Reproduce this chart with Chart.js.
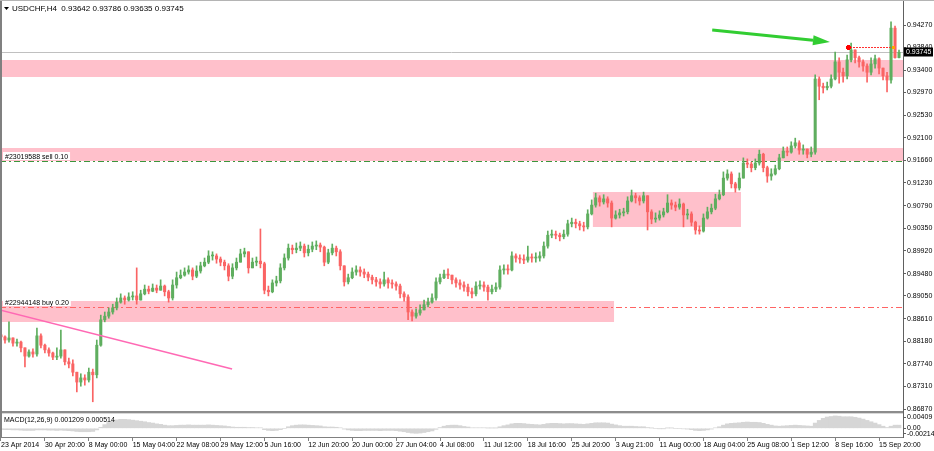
<!DOCTYPE html>
<html>
<head>
<meta charset="utf-8">
<style>
  html, body { margin: 0; padding: 0; background: #fff; overflow: hidden; }
  #wrap { width: 934px; height: 451px; }
</style>
</head>
<body>
<div id="wrap"><canvas id="myChart" width="934" height="451"></canvas></div>
<script src="https://cdn.jsdelivr.net/npm/chart.js@4.4.1/dist/chart.umd.min.js"></script>
<script>
// USDCHF H4, one candle per entry (oldest first)
const symbolTitle = 'USDCHF,H4  0.93642 0.93786 0.93635 0.93745';
const macdTitle = 'MACD(12,26,9) 0.001209 0.000514';

const firstOpen = 0.8830;
const closes = [
  .8826,.8820,.8824,.8814,.8816,.8805,.8789,.8797,.8793,.8828,
  .8810,.8801,.8795,.8787,.8789,.8801,.8778,.8774,.8758,.8739,
  .8747,.8743,.8758,.8753,.8810,.8859,.8866,.8874,.8882,.8893,
  .8901,.8897,.8903,.8905,.8897,.8909,.8918,.8914,.8920,.8916,
  .8924,.8913,.8901,.8926,.8940,.8945,.8951,.8955,.8943,.8953,
  .8963,.8970,.8982,.8982,.8976,.8970,.8963,.8943,.8959,.8970,
  .8986,.8990,.8959,.8970,.8972,.8967,.8916,.8913,.8930,.8934,
  .8959,.8978,.8997,.8994,.8997,.9001,.8988,.8995,.9001,.9003,
  .8999,.8970,.8988,.8997,.8990,.8963,.8932,.8940,.8951,.8955,
  .8951,.8947,.8941,.8936,.8932,.8928,.8936,.8930,.8928,.8924,
  .8909,.8903,.8874,.8866,.8872,.8878,.8888,.8893,.8901,.8932,
  .8940,.8947,.8945,.8936,.8930,.8926,.8922,.8913,.8909,.8924,
  .8926,.8922,.8913,.8918,.8922,.8955,.8957,.8955,.8982,.8978,
  .8976,.8974,.8980,.8978,.8978,.8982,.9001,.9022,.9024,.9022,
  .9019,.9024,.9044,.9047,.9044,.9040,.9038,.9063,.9080,.9094,
  .9086,.9092,.9084,.9055,.9061,.9065,.9067,.9088,.9098,.9094,
  .9088,.9098,.9067,.9053,.9055,.9061,.9067,.9084,.9080,.9076,
  .9082,.9061,.9063,.9047,.9032,.9030,.9055,.9067,.9074,.9092,
  .9100,.9132,.9140,.9121,.9113,.9132,.9161,.9159,.9152,.9161,
  .9178,.9152,.9136,.9140,.9150,.9171,.9184,.9182,.9194,.9200,
  .9186,.9188,.9178,.9182,.9323,.9309,.9306,.9309,.9323,.9356,
  .9336,.9329,.9360,.9379,.9364,.9356,.9348,.9336,.9352,.9362,
  .9344,.9329,.9321,.9421,.93642,.93745
];
const highs = [
  .8834,.8828,.8855,.8824,.8822,.8818,.8805,.8801,.8803,.8843,
  .8832,.8812,.8805,.8797,.8805,.8839,.8801,.8785,.8782,.8758,
  .8755,.8753,.8766,.8764,.8820,.8868,.8874,.8882,.8889,.8901,
  .8909,.8905,.8911,.8913,.8959,.8916,.8926,.8924,.8928,.8926,
  .8936,.8926,.8916,.8936,.8951,.8955,.8959,.8963,.8959,.8963,
  .8970,.8978,.8992,.8990,.8986,.8980,.8974,.8967,.8967,.8978,
  .8995,.8997,.8990,.8978,.8980,.9034,.8970,.8924,.8936,.8943,
  .8967,.8986,.9005,.9003,.9007,.9009,.9005,.9003,.9009,.9011,
  .9007,.9001,.8995,.9005,.9001,.8994,.8963,.8947,.8959,.8963,
  .8961,.8957,.8951,.8945,.8941,.8938,.8951,.8940,.8936,.8932,
  .8928,.8913,.8907,.8878,.8880,.8888,.8897,.8901,.8909,.8940,
  .8947,.8955,.8957,.8945,.8940,.8936,.8932,.8928,.8920,.8932,
  .8934,.8932,.8926,.8926,.8930,.8963,.8965,.8965,.8990,.8986,
  .8984,.8984,.9001,.8986,.8988,.8990,.9009,.9030,.9032,.9030,
  .9026,.9032,.9051,.9055,.9053,.9049,.9047,.9071,.9090,.9103,
  .9098,.9100,.9096,.9088,.9069,.9072,.9074,.9096,.9109,.9103,
  .9098,.9105,.9098,.9071,.9065,.9069,.9074,.9100,.9090,.9086,
  .9092,.9084,.9072,.9067,.9049,.9040,.9063,.9076,.9082,.9101,
  .9109,.9144,.9148,.9144,.9124,.9142,.9171,.9169,.9163,.9169,
  .9186,.9180,.9155,.9150,.9157,.9178,.9192,.9192,.9202,.9209,
  .9204,.9196,.9188,.9192,.9331,.9327,.9315,.9317,.9331,.9375,
  .9364,.9344,.9369,.9392,.9379,.9367,.9360,.9352,.9364,.9369,
  .9364,.9344,.9336,.9433,.9425,.93786
];
const lows = [
  .8820,.8814,.8816,.8808,.8808,.8797,.8768,.8787,.8787,.8789,
  .8805,.8795,.8789,.8782,.8782,.8785,.8772,.8766,.8751,.8720,
  .8731,.8733,.8739,.8701,.8747,.8808,.8855,.8862,.8870,.8878,
  .8891,.8889,.8895,.8897,.8889,.8897,.8907,.8909,.8913,.8911,
  .8916,.8905,.8893,.8897,.8920,.8938,.8943,.8947,.8936,.8940,
  .8949,.8961,.8967,.8974,.8968,.8963,.8955,.8934,.8938,.8955,
  .8970,.8980,.8949,.8959,.8963,.8959,.8909,.8905,.8911,.8924,
  .8930,.8955,.8974,.8986,.8988,.8992,.8980,.8982,.8990,.8994,
  .8990,.8963,.8967,.8984,.8982,.8955,.8924,.8928,.8938,.8945,
  .8943,.8940,.8934,.8928,.8924,.8920,.8924,.8920,.8920,.8916,
  .8901,.8895,.8859,.8857,.8862,.8868,.8878,.8884,.8891,.8897,
  .8928,.8938,.8938,.8928,.8922,.8918,.8914,.8905,.8901,.8905,
  .8918,.8914,.8897,.8909,.8913,.8918,.8947,.8947,.8953,.8970,
  .8968,.8967,.8970,.8970,.8970,.8972,.8978,.8997,.9017,.9015,
  .9011,.9015,.9020,.9038,.9036,.9032,.9030,.9034,.9061,.9076,
  .9078,.9082,.9076,.9038,.9053,.9055,.9059,.9063,.9086,.9084,
  .9080,.9084,.9032,.9044,.9047,.9051,.9057,.9065,.9072,.9069,
  .9072,.9038,.9053,.9040,.9024,.9024,.9028,.9053,.9063,.9071,
  .9090,.9098,.9128,.9113,.9105,.9109,.9132,.9152,.9144,.9148,
  .9157,.9144,.9124,.9128,.9138,.9148,.9171,.9175,.9180,.9190,
  .9178,.9178,.9171,.9173,.9178,.9283,.9296,.9302,.9306,.9321,
  .9315,.9317,.9323,.9356,.9354,.9346,.9338,.9317,.9331,.9344,
  .9333,.9321,.9298,.9315,.9363,.93635
];
const macd = [
  -.0004,-.0005,-.0005,-.0006,-.0006,-.0007,-.0008,-.0008,-.0008,-.0006,
  -.0006,-.0006,-.0007,-.0007,-.0008,-.0007,-.0008,-.0009,-.0010,-.0012,
  -.0013,-.0013,-.0013,-.0012,-.0006,.0004,.0014,.0022,.0028,.0032,
  .0034,.0034,.0033,.0031,.0029,.0027,.0025,.0022,.0020,.0017,
  .0015,.0012,.0010,.0010,.0011,.0012,.0012,.0013,.0012,.0012,
  .0012,.0012,.0013,.0012,.0011,.0010,.0009,.0007,.0005,.0004,
  .0004,.0004,.0003,.0003,.0002,.0002,-.0005,-.0008,-.0009,-.0008,
  -.0005,.0000,.0006,.0010,.0012,.0013,.0013,.0012,.0011,.0010,
  .0009,.0006,.0005,.0005,.0004,.0002,-.0003,-.0006,-.0008,-.0009,
  -.0009,-.0008,-.0008,-.0008,-.0008,-.0009,-.0008,-.0008,-.0008,-.0009,
  -.0011,-.0013,-.0016,-.0018,-.0019,-.0018,-.0016,-.0013,-.0010,-.0004,
  .0003,.0008,.0011,.0012,.0012,.0010,.0007,.0005,.0002,.0002,
  .0002,.0002,.0001,.0001,.0001,.0006,.0010,.0013,.0017,.0019,
  .0019,.0018,.0016,.0015,.0014,.0013,.0015,.0018,.0019,.0019,
  .0018,.0017,.0018,.0018,.0017,.0016,.0015,.0017,.0019,.0021,
  .0021,.0021,.0020,.0016,.0013,.0010,.0008,.0008,.0008,.0007,
  .0006,.0006,.0003,.0001,.0000,-.0001,-.0001,.0001,.0001,.0000,
  .0000,-.0002,-.0003,-.0005,-.0008,-.0009,-.0008,-.0006,-.0003,.0002,
  .0006,.0012,.0017,.0019,.0020,.0021,.0023,.0024,.0023,.0023,
  .0022,.0019,.0015,.0012,.0009,.0008,.0009,.0010,.0011,.0012,
  .0011,.0010,.0009,.0008,.0020,.0030,.0038,.0043,.0045,.0047,
  .0046,.0044,.0044,.0044,.0042,.0039,.0035,.0030,.0025,.0020,
  .0014,.0008,.0003,.0008,.0012,.0012
];

const priceTicks = [0.86870,0.87310,0.87740,0.88180,0.88610,0.89050,0.89480,0.89920,0.90350,
  0.90790,0.91230,0.91660,0.92100,0.92530,0.92970,0.93400,0.93840,0.94270];
const macdTicks = [-0.002148, 0, 0.00409];
const macdTickLabels = ['-0.002148', '0.00', '0.00409'];
const timeLabels = ['23 Apr 2014','30 Apr 20:00','8 May 00:00','15 May 04:00','22 May 08:00','29 May 12:00',
  '5 Jun 16:00','12 Jun 20:00','20 Jun 00:00','27 Jun 04:00','4 Jul 08:00','11 Jul 12:00','18 Jul 16:00',
  '25 Jul 20:00','3 Aug 21:00','11 Aug 00:00','18 Aug 04:00','25 Aug 08:00','1 Sep 12:00','8 Sep 16:00','15 Sep 20:00'];
const timeLabelBars = [0,11,22,33,44,55,66,77,88,99,110,121,132,143,154,165,176,187,198,209,220];

// chart objects (bar index / price)
const zoneFromBar = [-1, -1, 148.3, -1];
const zoneToBar = [230, 230, 185.4, 153.6];
const zoneTop = [0.93596, 0.91900, 0.91052, 0.88952];
const zoneBottom = [0.93268, 0.91649, 0.90378, 0.88547];

const orderTickets = [22944148, 23019588];
const orderSides = ['buy', 'sell'];
const orderLots = [0.20, 0.10];
const orderPrices = [0.88836, 0.91649];

const trendBars = [-1, 57.9];
const trendPrices = [0.88793, 0.87641];
const arrowBars = [178.2, 207.7];
const arrowPrices = [0.94174, 0.93943];
const targetBars = [212.2, 223.5];
const targetPrice = 0.93846;

// pick a narrow font if one is installed, else a smaller regular one
function hasFont(name) {
  const c = document.createElement('canvas').getContext('2d');
  c.font = '20px monospace';
  const a = c.measureText('0.94270 Apr May').width;
  c.font = "20px '" + name + "', monospace";
  return c.measureText('0.94270 Apr May').width !== a;
}
let FONT = "'Liberation Sans', Arial, sans-serif";
let FSIZE = 7;
let TSIZE = 8;
if (hasFont('Liberation Sans Narrow')) { FONT = "'Liberation Sans Narrow', sans-serif"; FSIZE = 8; TSIZE = 9; }
Chart.defaults.font.family = FONT;
Chart.defaults.font.size = FSIZE;
Chart.defaults.color = '#000';

const UP = '#5fae5f', DOWN = '#fa6464';
const opens = closes.map(function(c, i) { return i === 0 ? firstOpen : closes[i - 1]; });
const candleColors = closes.map(function(c, i) { return c >= opens[i] ? UP : DOWN; });

function dashLine(ctx, x0, x1, yy, color, dash) {
  ctx.strokeStyle = color;
  ctx.lineWidth = 1;
  ctx.setLineDash(dash);
  ctx.beginPath();
  ctx.moveTo(x0, yy);
  ctx.lineTo(x1, yy);
  ctx.stroke();
  ctx.setLineDash([]);
}

function noPad(s) {
  s.paddingLeft = 0; s.paddingRight = 0; s.paddingTop = 0; s.paddingBottom = 0;
}

const overlay = {
  id: 'overlay',
  beforeDatasetsDraw(chart) {
    const ctx = chart.ctx, x = chart.scales.x, y = chart.scales.y;
    ctx.save();
    ctx.beginPath();
    ctx.rect(x.left, y.top, x.right - x.left, y.bottom - y.top);
    ctx.clip();

    // pink zones
    ctx.fillStyle = '#ffc0cb';
    zoneTop.forEach(function(top, k) {
      const x0 = x.getPixelForValue(zoneFromBar[k]);
      const x1 = x.getPixelForValue(zoneToBar[k]);
      const y0 = y.getPixelForValue(top);
      const y1 = y.getPixelForValue(zoneBottom[k]);
      ctx.fillRect(x0, y0, x1 - x0, y1 - y0);
    });

    // bid line
    const by = Math.round(y.getPixelForValue(closes[closes.length - 1])) + 0.5;
    dashLine(ctx, x.left, x.right, by, '#c0c0c0', []);

    // order lines
    orderPrices.forEach(function(p, k) {
      const oy = Math.round(y.getPixelForValue(p)) + 0.5;
      const col = orderSides[k] === 'buy' ? '#ff6464' : '#3c963c';
      dashLine(ctx, x.left, x.right, oy, col, [6, 3, 2, 3]);
    });
    ctx.restore();
  },
  afterDatasetsDraw(chart) {
    const ctx = chart.ctx, x = chart.scales.x, y = chart.scales.y, y2 = chart.scales.y2;
    ctx.save();
    ctx.beginPath();
    ctx.rect(x.left, y.top, x.right - x.left, y.bottom - y.top);
    ctx.clip();

    // trend line
    ctx.strokeStyle = '#ff69b4';
    ctx.lineWidth = 1.6;
    ctx.beginPath();
    ctx.moveTo(x.getPixelForValue(trendBars[0]), y.getPixelForValue(trendPrices[0]));
    ctx.lineTo(x.getPixelForValue(trendBars[1]), y.getPixelForValue(trendPrices[1]));
    ctx.stroke();

    // green arrow
    const ax0 = x.getPixelForValue(arrowBars[0]), ay0 = y.getPixelForValue(arrowPrices[0]);
    const ax1 = x.getPixelForValue(arrowBars[1]), ay1 = y.getPixelForValue(arrowPrices[1]);
    const ang = Math.atan2(ay1 - ay0, ax1 - ax0);
    const hl = 17, hw = 5;
    const bx = ax1 - hl * Math.cos(ang), byy = ay1 - hl * Math.sin(ang);
    ctx.strokeStyle = '#32cd32';
    ctx.fillStyle = '#32cd32';
    ctx.lineWidth = 3;
    ctx.beginPath();
    ctx.moveTo(ax0, ay0);
    ctx.lineTo(bx, byy);
    ctx.stroke();
    ctx.beginPath();
    ctx.moveTo(ax1, ay1);
    ctx.lineTo(bx + hw * Math.sin(ang), byy - hw * Math.cos(ang));
    ctx.lineTo(bx - hw * Math.sin(ang), byy + hw * Math.cos(ang));
    ctx.closePath();
    ctx.fill();

    // target dotted line with markers
    const tx0 = Math.round(x.getPixelForValue(targetBars[0]));
    const tx1 = Math.round(x.getPixelForValue(targetBars[1]));
    const ty = Math.round(y.getPixelForValue(targetPrice));
    ctx.fillStyle = '#ff3030';
    for (let px = tx0 + 2; px < tx1 - 1; px += 3) {
      ctx.fillRect(px, ty, 2, 1);
    }
    ctx.fillStyle = '#ff0000';
    ctx.fillRect(tx0 - 2, ty - 1, 5, 3);
    ctx.fillRect(tx0 - 1, ty - 2, 3, 5);
    ctx.fillStyle = '#ffa500';
    ctx.fillRect(tx1 - 1, ty - 1, 3, 3);

    // order labels
    ctx.font = FSIZE + 'px ' + FONT;
    ctx.textBaseline = 'alphabetic';
    orderPrices.forEach(function(p, k) {
      const oy = Math.round(y.getPixelForValue(p));
      const txt = '#' + orderTickets[k] + ' ' + orderSides[k] + ' ' + orderLots[k].toFixed(2);
      const w = ctx.measureText(txt).width;
      ctx.fillStyle = '#ffffff';
      ctx.fillRect(x.left + 3, oy - 9, w + 4, 8);
      ctx.fillStyle = '#000';
      ctx.fillText(txt, x.left + 5, oy - 2);
    });
    ctx.restore();

    // pane separator and borders
    ctx.save();
    ctx.fillStyle = '#8c8c8c';
    ctx.fillRect(0, y.bottom - 1, x.right, 2);
    ctx.fillStyle = '#d8d8d8';
    ctx.fillRect(0, y.bottom + 1, x.right, 1);
    ctx.fillStyle = '#808080';
    ctx.fillRect(0, 0, 2, x.top);
    ctx.fillStyle = '#b4b4b4';
    ctx.fillRect(0, 0, chart.width, 1);

    // title and MACD label
    ctx.fillStyle = '#000';
    ctx.beginPath();
    ctx.moveTo(4, 7);
    ctx.lineTo(9, 7);
    ctx.lineTo(6.5, 10);
    ctx.closePath();
    ctx.fill();
    ctx.textBaseline = 'middle';
    ctx.font = TSIZE + 'px ' + FONT;
    ctx.fillText(symbolTitle, 12, 8.5);
    ctx.font = FSIZE + 'px ' + FONT;
    ctx.fillText(macdTitle, 4, y2.top + 8);
    ctx.restore();
  },
  afterDraw(chart) {
    const ctx = chart.ctx, y = chart.scales.y;
    const last = closes[closes.length - 1];
    const py = Math.round(y.getPixelForValue(last));
    ctx.save();
    ctx.fillStyle = '#000';
    ctx.fillRect(y.left + 1, py - 4.5, 29, 9);
    ctx.fillStyle = '#fff';
    ctx.font = FSIZE + 'px ' + FONT;
    ctx.textBaseline = 'middle';
    ctx.fillText(last.toFixed(5), y.left + 3, py);
    ctx.restore();
  }
};

const ctx = document.getElementById('myChart');
new Chart(ctx, {
  type: 'bar',
  data: {
    datasets: [
      {
        label: 'wick',
        data: closes.map(function(c, i) { return { x: i, y: [lows[i], highs[i]] }; }),
        backgroundColor: candleColors,
        barThickness: 1,
        grouped: false,
        minBarLength: 1,
        yAxisID: 'y'
      },
      {
        label: 'body',
        data: closes.map(function(c, i) { return { x: i, y: [opens[i], c] }; }),
        backgroundColor: candleColors,
        barThickness: 2.4,
        grouped: false,
        minBarLength: 1,
        yAxisID: 'y'
      },
      {
        label: 'MACD',
        data: macd.map(function(v, i) { return { x: i, y: v }; }),
        backgroundColor: '#d6d6d6',
        barPercentage: 1,
        categoryPercentage: 1,
        grouped: false,
        yAxisID: 'y2'
      }
    ]
  },
  options: {
    responsive: false,
    animation: false,
    devicePixelRatio: 1,
    events: [],
    layout: { padding: 0 },
    plugins: { legend: { display: false }, tooltip: { enabled: false } },
    scales: {
      x: {
        type: 'linear',
        position: 'bottom',
        offset: false,
        min: -0.25,
        max: 226,
        afterFit: function(s) { s.height = 14; noPad(s); },
        afterBuildTicks: function(s) { s.ticks = timeLabelBars.map(function(v) { return { value: v }; }); },
        ticks: {
          autoSkip: false,
          maxRotation: 0,
          align: 'start',
          padding: 0,
          callback: function(v, i) { return timeLabels[i]; }
        },
        grid: { drawOnChartArea: false, offset: false, tickLength: 4, color: '#808080' },
        border: { color: '#808080' }
      },
      y: {
        position: 'right',
        stack: 'pane',
        stackWeight: 412,
        min: 0.86813,
        max: 0.94752,
        afterFit: function(s) { s.width = 31; noPad(s); },
        afterBuildTicks: function(s) { s.ticks = priceTicks.map(function(v) { return { value: v }; }); },
        ticks: { autoSkip: false, padding: 1, callback: function(v) { return v.toFixed(5); } },
        grid: { drawOnChartArea: false, tickLength: 3, color: '#606060' },
        border: { color: '#606060' }
      },
      y2: {
        position: 'right',
        stack: 'pane',
        stackWeight: 25,
        min: -0.0033,
        max: 0.0062,
        afterFit: function(s) { s.width = 31; noPad(s); },
        afterBuildTicks: function(s) { s.ticks = macdTicks.map(function(v) { return { value: v }; }); },
        ticks: { autoSkip: false, padding: 1, callback: function(v, i) { return macdTickLabels[i]; } },
        grid: { drawOnChartArea: false, tickLength: 3, color: '#606060' },
        border: { color: '#606060' }
      }
    }
  },
  plugins: [overlay]
});
</script>
</body>
</html>
